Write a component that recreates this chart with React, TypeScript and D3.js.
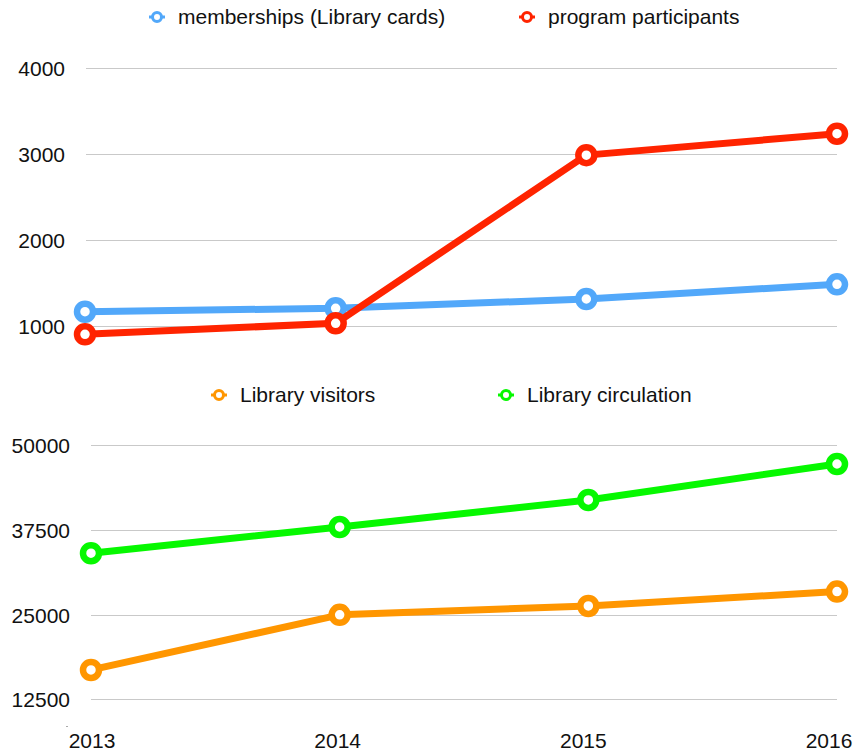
import React from "react";
import * as d3 from "d3";

const years = ["2013", "2014", "2015", "2016"];
const memberships = [1163, 1203, 1311, 1482];
const programParticipants = [900, 1028, 2988, 3238];
const visitors = [16830, 24950, 26270, 28380];
const circulation = [34040, 37910, 41900, 47200];
const topTicks = [1000, 2000, 3000, 4000];
const bottomTicks = [12500, 25000, 37500, 50000];

const W = 857;
const H = 751;
const FONT = "'Liberation Sans', Arial, Helvetica, sans-serif";
const GRID = "#c9c9c9";

type Series = { name: string; values: number[]; color: string };

const topSeries: Series[] = [
  { name: "memberships (Library cards)", values: memberships, color: "#52a8fa" },
  { name: "program participants", values: programParticipants, color: "#ff2400" },
];
const bottomSeries: Series[] = [
  { name: "Library visitors", values: visitors, color: "#ff9600" },
  { name: "Library circulation", values: circulation, color: "#06f800" },
];

function Legend({ items, y, xs }: { items: Series[]; y: number; xs: number[] }) {
  return (
    <g>
      {items.map((s, i) => (
        <g key={s.name} transform={`translate(${xs[i]},${y})`}>
          <line x1={-8} x2={8} y1={0} y2={0} stroke={s.color} strokeWidth={3} />
          <circle r={4.5} fill="#fff" stroke={s.color} strokeWidth={3} />
          <text x={21} y={7} fontSize={21} fontFamily={FONT} fill="#111">
            {s.name}
          </text>
        </g>
      ))}
    </g>
  );
}

function Panel({
  series,
  ticks,
  x,
  y,
  labelRight,
  gridX1,
}: {
  series: Series[];
  ticks: number[];
  x: d3.ScalePoint<string>;
  y: d3.ScaleLinear<number, number>;
  labelRight: number;
  gridX1: number;
}) {
  const line = d3
    .line<number>()
    .x((_, i) => x(years[i]) as number)
    .y((d) => y(d));
  return (
    <g>
      {ticks.map((t) => (
        <g key={t}>
          <line x1={gridX1} x2={837} y1={Math.round(y(t)) + 0.5} y2={Math.round(y(t)) + 0.5} stroke={GRID} strokeWidth={1} />
          <text
            x={labelRight}
            y={y(t) + 8}
            textAnchor="end"
            fontSize={21}
            fontFamily={FONT}
            fill="#111"
          >
            {t}
          </text>
        </g>
      ))}
      {series.map((s) => (
        <g key={s.name}>
          <path d={line(s.values) || ""} fill="none" stroke={s.color} strokeWidth={7} strokeLinejoin="round" />
          {s.values.map((v, i) => (
            <circle
              key={i}
              cx={x(years[i]) as number}
              cy={y(v)}
              r={8}
              fill="#fff"
              stroke={s.color}
              strokeWidth={6.5}
            />
          ))}
        </g>
      ))}
    </g>
  );
}

export default function App() {
  const xTop = d3.scalePoint<string>().domain(years).range([85, 837]);
  const yTop = d3.scaleLinear().domain([1000, 4000]).range([325.7, 68.3]);
  const xBot = d3.scalePoint<string>().domain(years).range([91, 837]);
  const yBot = d3.scaleLinear().domain([12500, 50000]).range([699.3, 445]);
  const xLabels = d3.scalePoint<string>().domain(years).range([92, 829]);

  return (
    <svg
      width={W}
      height={H}
      viewBox={`0 0 ${W} ${H}`}
      style={{ position: "absolute", left: 0, top: 0, background: "#fff" }}
    >
      <rect width={W} height={H} fill="#fff" />
      <Legend items={topSeries} y={17} xs={[157, 527]} />
      <Panel series={topSeries} ticks={topTicks} x={xTop} y={yTop} labelRight={65} gridX1={86} />
      <Legend items={bottomSeries} y={395} xs={[219, 506]} />
      <Panel series={bottomSeries} ticks={bottomTicks} x={xBot} y={yBot} labelRight={70} gridX1={91} />
      <line x1={66} x2={68} y1={726.5} y2={726.5} stroke="#aaa" strokeWidth={1} />
      {years.map((yr) => (
        <text
          key={yr}
          x={xLabels(yr) as number}
          y={748}
          textAnchor="middle"
          fontSize={21}
          fontFamily={FONT}
          fill="#111"
        >
          {yr}
        </text>
      ))}
    </svg>
  );
}
